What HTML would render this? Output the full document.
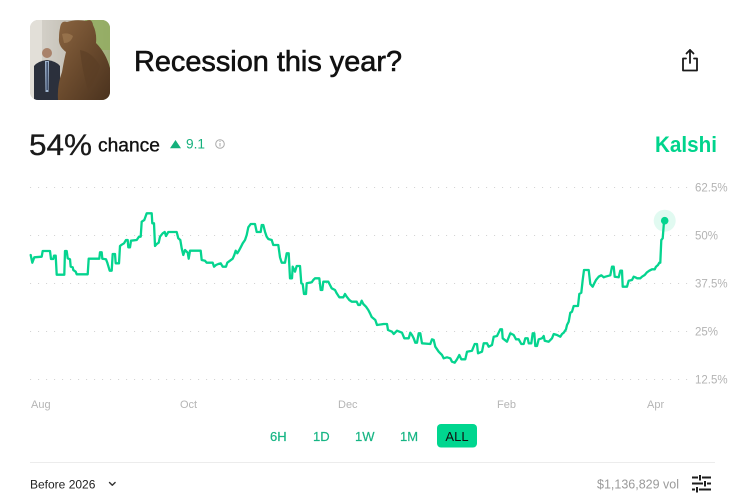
<!DOCTYPE html>
<html>
<head>
<meta charset="utf-8">
<style>
  html,body{margin:0;padding:0;background:#fff;}
  svg{display:block;}
  text{font-family:"Liberation Sans",Arial,sans-serif;}
</style>
</head>
<body>
<svg width="743" height="503" viewBox="0 0 743 503" xmlns="http://www.w3.org/2000/svg">
  <rect width="743" height="503" fill="#fff"/>
  <defs>
    <clipPath id="imgclip"><rect x="30" y="20" width="80" height="80" rx="8" ry="8"/></clipPath>
    <linearGradient id="bg" x1="0" y1="0" x2="1" y2="0">
      <stop offset="0" stop-color="#d9d6cf"/>
      <stop offset="0.5" stop-color="#c4c0b6"/>
      <stop offset="1" stop-color="#9fae78"/>
    </linearGradient>
    <linearGradient id="bear" x1="0" y1="0" x2="1" y2="1">
      <stop offset="0" stop-color="#8a6440"/>
      <stop offset="0.5" stop-color="#6a4a2d"/>
      <stop offset="1" stop-color="#4a321e"/>
    </linearGradient>
  </defs>

  <!-- image -->
  <g clip-path="url(#imgclip)">
    <rect x="30" y="20" width="80" height="80" fill="url(#bg)"/>
    <rect x="85" y="20" width="25" height="30" fill="#93ad62" opacity="0.85"/>
    <rect x="30" y="20" width="12" height="80" fill="#e2dfd8"/>
    <!-- man -->
    <circle cx="47" cy="53" r="5" fill="#a9826a"/>
    <path d="M34,66 Q38,61 47,60 Q56,61 60,66 L60,100 L34,100 Z" fill="#2b303c"/>
    <path d="M45,61 L49,61 L48.5,92 L45.5,92 Z" fill="#9fb4cf"/>
    <path d="M46.5,62 L47.8,62 L47.8,90 L46.5,90 Z" fill="#2d3b5a"/>
    <!-- bear -->
    <path d="M60,28 Q61,20 67,22 Q76,19 86,21 Q92,18 93,25 Q97,33 96,43 Q106,53 110,68 L110,100 L58,100 Q57,85 62,72 Q64,60 66,52 Q58,46 59,38 Q59,32 60,28 Z" fill="url(#bear)"/>
    <path d="M62,34 Q68,32 73,36 Q71,43 64,43 Z" fill="#a07a52" opacity="0.7"/>
    <path d="M80,50 Q92,52 100,66 Q96,80 88,90 Q82,70 80,50 Z" fill="#5a3d24" opacity="0.6"/>
  </g>

  <!-- title -->
  <text x="134" y="71" font-size="29" fill="#111" stroke="#111" stroke-width="0.6" textLength="268" lengthAdjust="spacingAndGlyphs">Recession this year?</text>

  <!-- share icon -->
  <g fill="none" stroke="#1a1a1a" stroke-width="1.8" stroke-linecap="round" stroke-linejoin="round">
    <path d="M686,58.5 H683 V70.5 H697 V58.5 H694"/>
    <path d="M690,50 V63"/>
    <path d="M686.5,53.5 L690,50 L693.5,53.5"/>
  </g>

  <!-- probability row -->
  <text x="29" y="155" font-size="30" fill="#1a1a1a" stroke="#1a1a1a" stroke-width="0.3" textLength="63" lengthAdjust="spacingAndGlyphs">54%</text>
  <text x="98" y="151.5" font-size="19" fill="#111" stroke="#111" stroke-width="0.35" textLength="62" lengthAdjust="spacingAndGlyphs">chance</text>
  <polygon points="170,148.3 181,148.3 175.5,140" fill="#14b07c"/>
  <text x="186" y="148.5" font-size="13.5" fill="#14b07c" textLength="19" lengthAdjust="spacingAndGlyphs">9.1</text>
  <circle cx="220" cy="144" r="4.3" fill="none" stroke="#aaa" stroke-width="1"/>
  <line x1="220" y1="143" x2="220" y2="146.5" stroke="#aaa" stroke-width="1"/>
  <circle cx="220" cy="141.4" r="0.6" fill="#aaa"/>
  <text x="655" y="152" font-size="22" font-weight="bold" fill="#00d48c" textLength="62" lengthAdjust="spacingAndGlyphs">Kalshi</text>

  <!-- gridlines -->
  <g stroke="#d4d4d4" stroke-width="1.1" stroke-dasharray="1.1 6.9" stroke-linecap="butt">
    <line x1="30" y1="187.5" x2="690" y2="187.5"/>
    <line x1="30" y1="235.5" x2="690" y2="235.5"/>
    <line x1="30" y1="283.5" x2="690" y2="283.5"/>
    <line x1="30" y1="331.5" x2="690" y2="331.5"/>
    <line x1="30" y1="379.5" x2="690" y2="379.5"/>
  </g>
  <g font-size="11.5" fill="#b3b3b3">
    <text x="695" y="191.5">62.5%</text>
    <text x="695" y="239.5">50%</text>
    <text x="695" y="287.5">37.5%</text>
    <text x="695" y="335.5">25%</text>
    <text x="695" y="383.5">12.5%</text>
  </g>
  <g font-size="11" fill="#b5b5b5">
    <text x="31" y="408">Aug</text>
    <text x="180" y="408">Oct</text>
    <text x="338" y="408">Dec</text>
    <text x="497" y="408">Feb</text>
    <text x="647" y="408">Apr</text>
  </g>

  <!-- series -->
  <polyline fill="none" stroke="#05d48f" stroke-width="2.3" stroke-linejoin="round" stroke-linecap="round" points="30.7,255 32.3,262.7 34.3,257.3 41.7,256.7 42.7,251 50,251 51,259 53.3,259 54,255.7 55.7,255.7 56.7,274.7 64.3,274.7 65,251 66.7,251 67.7,258.3 70,259.3 70.7,266.7 72.7,267.3 73.3,270 75.7,271.7 76.7,274.3 87.7,274.3 88.7,258.7 99.3,258.7 100,252.3 101.7,252.3 102.3,258.7 106,259.3 107.3,262.7 109.7,270.7 111.7,270.7 112.7,254 115,254 115.7,263.3 119,263.3 120,246 121.7,244.7 124,243.3 126,240 127.7,240 128.3,247.3 130,247.3 131,240.7 136.7,240 139,236.7 140.7,236.7 141.7,221.7 144.3,220 146.7,213.3 151.7,213.3 152.3,223.3 154,223.3 155,246 156.7,244 158.7,242.7 160,236.7 162.7,233.3 164.7,232 166,236 168.3,232 176.7,232 178.3,238.3 180.3,240 181.7,248.3 183.3,255 185,250 187.7,252.7 188.7,258.7 190,250.7 200.7,250.7 201.7,260 205,260.7 206.7,262.7 212.7,262.7 214,266.7 216,265 218.3,264 220.7,263.3 222.7,266.7 226,266.7 227.3,262.7 230,260.7 232.7,258.7 234.3,255 235.7,250.7 237.3,253.3 239.3,250 240.7,247.3 242.7,243.3 245,240 246.7,235 248.3,227.3 250.7,224 255,224 256.7,232 260.7,232 261.7,225 263.3,225 265,231.7 266.7,236.7 268.3,239 271.7,240 273.3,245 278.3,245 280,257.3 281.7,262.7 285,262.7 286.7,253.3 288.7,253.3 290,278.3 292,278.3 292.7,266.7 295,271.7 296.7,266 300,266 301.3,283.3 302.7,284 304,294 306,294 306.7,283.3 311.7,282.3 313.3,280 315,278.3 319.3,278.3 320.7,290 322.3,290 323.3,281.7 328.3,281.7 330,285 331.7,288.3 335,290 336.7,293.3 339.3,297.3 343.3,297.3 345,294 346.7,296.7 349.3,300 351.7,301.7 356.7,301.7 358.3,305 360,305 361.7,300.7 363.3,304 366,306.7 368.3,310 370,313.3 371.7,317 375.3,320 377,325 383.7,324 387,324 388,330 392,331.7 393.7,334 397,330.7 402,332.7 404.3,338.3 408.7,338.3 410.3,332.7 412,335 413.7,338.3 415.3,342.7 417,342.7 418.7,333.3 420.3,333.3 422,343.3 430.3,344 432,339.3 433.7,340 435.3,346.7 438.7,351.7 442,355 443.7,358.3 447,357.3 450.3,358.3 452,361.7 454.7,362.7 457,359.3 459.3,355 461.3,359.3 465.3,359.3 467,351.7 472,350.7 474.7,344 477,344 478,353.3 482,351.7 483.7,343.3 487,343.3 488.7,346.7 492,345 493.7,336.7 497,336 500.3,329.3 502,329.3 502.7,338.3 507,341.7 510.3,333.3 513.7,335 516,339.3 518.7,339.3 521.3,344 523.7,344 525.3,338.3 527.7,338.3 528.7,343.3 531.3,343.3 532.7,333.3 534.3,333.3 535.3,346 537,346 538.7,339.3 542,338.3 543.7,336 544.7,340.7 548.7,341.7 552,338.3 553.7,334 557,335 560.3,336.7 562,334 563.7,332.7 566,329.3 567,325 568.7,321.7 570.3,312.7 572,311.7 573.7,306 578,306 579.3,294 581.3,292.7 582.7,280 584,270 588.7,270 590.3,284 592.7,286.7 594.3,283.3 596,280 598.7,276.7 601.3,275.3 603.7,277.3 605.3,276.7 610.3,275.3 612,266.7 613.7,266.7 614.7,276.7 618.7,277.3 620.3,270.7 622,270.7 622.7,286.7 627,286.7 628.7,280.7 632,280 633.7,276.7 635.3,277.3 637,278.3 640.3,278.3 642,276.7 644.7,275 647,272.3 649.3,270.7 652,269.3 654.7,269.3 656,266.7 658,265 659.3,262.7 660.3,262.7 661.3,240 662.7,238.3 664,221.7 664.7,220.7"/>
  <circle cx="664.7" cy="220.7" r="11" fill="#05d48f" opacity="0.12"/>
  <circle cx="664.7" cy="220.7" r="3.8" fill="#05d48f"/>

  <!-- range buttons -->
  <rect x="437" y="424" width="40" height="23.5" rx="4" ry="4" fill="#00d68f"/>
  <g font-size="13" fill="#17b584" stroke="#17b584" stroke-width="0.2">
    <text x="270" y="441">6H</text>
    <text x="313" y="441">1D</text>
    <text x="355" y="441">1W</text>
    <text x="400" y="441">1M</text>
  </g>
  <text x="457" y="441" font-size="13" fill="#111" text-anchor="middle">ALL</text>

  <!-- separator -->
  <line x1="30" y1="462.5" x2="715" y2="462.5" stroke="#ececec" stroke-width="1"/>

  <!-- footer -->
  <text x="30" y="488.5" font-size="12" fill="#222">Before 2026</text>
  <polyline points="109.5,482.5 112.3,485.3 115.1,482.5" fill="none" stroke="#333" stroke-width="1.4" stroke-linecap="round" stroke-linejoin="round"/>
  <text x="597" y="488.5" font-size="12.5" fill="#9a9a9a" textLength="82" lengthAdjust="spacingAndGlyphs">$1,136,829 vol</text>
  <g stroke="#1e1e1e" stroke-width="2" stroke-linecap="butt">
    <line x1="692" y1="477.5" x2="698" y2="477.5"/>
    <line x1="702" y1="477.5" x2="711" y2="477.5"/>
    <line x1="700" y1="475" x2="700" y2="480.5"/>
    <line x1="692" y1="483.5" x2="703" y2="483.5"/>
    <line x1="707" y1="483.5" x2="711" y2="483.5"/>
    <line x1="705" y1="481" x2="705" y2="486.5"/>
    <line x1="692" y1="489.5" x2="695" y2="489.5"/>
    <line x1="699" y1="489.5" x2="711" y2="489.5"/>
    <line x1="697" y1="487" x2="697" y2="492.5"/>
  </g>
</svg>
</body>
</html>
